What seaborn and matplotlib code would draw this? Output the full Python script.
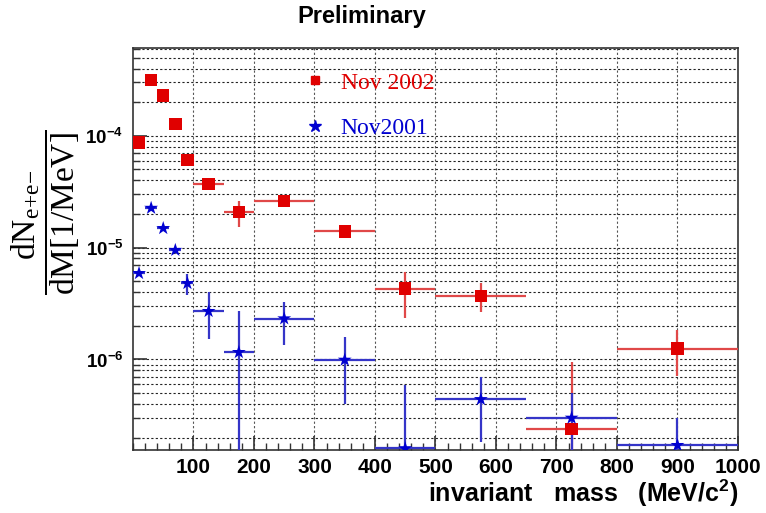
import numpy as np
import pandas as pd
import seaborn as sns
import matplotlib.pyplot as plt
from matplotlib.lines import Line2D
from matplotlib.ticker import FixedLocator, MultipleLocator, LogLocator, FuncFormatter, NullFormatter

# bin centres / half widths (MeV/c^2)
mass = [10, 30, 50, 70, 90, 125, 175, 250, 350, 450, 575, 725, 900]
half_width = [10, 10, 10, 10, 10, 25, 25, 50, 50, 50, 75, 75, 100]

# Nov 2002 (red squares)
rate_2002 = [8.7e-5, 3.15e-4, 2.3e-4, 1.28e-4, 6.1e-5, 3.7e-5, 2.08e-5,
             2.6e-5, 1.4e-5, 4.3e-6, 3.7e-6, 2.4e-7, 1.25e-6]
lo_2002 = [8.4e-5, 3.05e-4, 2.22e-4, 1.23e-4, 5.8e-5, 3.4e-5, 1.52e-5,
           2.3e-5, 1.22e-5, 2.36e-6, 2.64e-6, 1e-8, 7.1e-7]
hi_2002 = [9.0e-5, 3.25e-4, 2.38e-4, 1.33e-4, 6.4e-5, 4.0e-5, 2.6e-5,
           2.9e-5, 1.6e-5, 6.0e-6, 4.84e-6, 9.4e-7, 1.85e-6]

# Nov 2001 (blue stars)
rate_2001 = [5.9e-6, 2.26e-5, 1.49e-5, 9.5e-6, 4.8e-6, 2.7e-6, 1.16e-6,
             2.32e-6, 9.9e-7, 1.6e-7, 4.4e-7, 3.0e-7, 1.71e-7]
lo_2001 = [5.6e-6, 2.15e-5, 1.42e-5, 9.0e-6, 3.8e-6, 1.53e-6, 1e-8,
           1.36e-6, 3.97e-7, 1e-8, 1.83e-7, 1e-8, 1e-8]
hi_2001 = [6.2e-6, 2.37e-5, 1.56e-5, 1.0e-5, 5.86e-6, 4.0e-6, 2.7e-6,
           3.25e-6, 1.58e-6, 5.86e-7, 6.95e-7, 5.0e-7, 3.0e-7]

runs = ['Nov 2002', 'Nov2001']

sns.set_style('ticks')
plt.rcParams['font.family'] = ['Liberation Sans', 'DejaVu Sans']
plt.rcParams['mathtext.fontset'] = 'custom'
plt.rcParams['mathtext.rm'] = 'Liberation Serif'
plt.rcParams['mathtext.it'] = 'Liberation Serif:italic'
plt.rcParams['mathtext.bf'] = 'Liberation Sans:bold'
for key in ['text.color', 'axes.labelcolor', 'xtick.labelcolor', 'ytick.labelcolor']:
    plt.rcParams[key] = 'black'

fig = plt.figure(figsize=(7.66, 5.13), dpi=100)
ax = fig.add_axes([0.1736, 0.1228, 0.7898, 0.7836])

df = pd.DataFrame({
    'mass': mass + mass,
    'rate': rate_2002 + rate_2001,
    'run': [runs[0]] * len(mass) + [runs[1]] * len(mass),
})

ax.errorbar(mass, rate_2002, xerr=half_width,
            yerr=[np.array(rate_2002) - np.array(lo_2002), np.array(hi_2002) - np.array(rate_2002)],
            fmt='none', ecolor='#e04848', elinewidth=1.6, capsize=0, zorder=3)
ax.errorbar(mass, rate_2001, xerr=half_width,
            yerr=[np.array(rate_2001) - np.array(lo_2001), np.array(hi_2001) - np.array(rate_2001)],
            fmt='none', ecolor='#3535c8', elinewidth=1.6, capsize=0, zorder=3)

sns.scatterplot(data=df, x='mass', y='rate', hue='run', style='run',
                markers={'Nov 2002': 's', 'Nov2001': '*'},
                palette={'Nov 2002': '#e00000', 'Nov2001': '#0000d0'},
                size='run', sizes={'Nov 2002': 80, 'Nov2001': 110},
                linewidth=0, legend=False, zorder=4, ax=ax)

ax.set_yscale('log')
ax.set_xlim(0, 1000)
ax.set_ylim(1.55e-7, 6.1e-4)

ax.xaxis.set_major_locator(FixedLocator(list(range(100, 1001, 100))))
ax.xaxis.set_minor_locator(MultipleLocator(20))
ax.yaxis.set_major_locator(LogLocator(base=10))
ax.yaxis.set_minor_locator(LogLocator(base=10, subs=np.arange(2, 10)))
ax.yaxis.set_major_formatter(FuncFormatter(lambda v, p: r'$\mathbf{10^{%d}}$' % round(np.log10(v))))
ax.yaxis.set_minor_formatter(NullFormatter())

ax.tick_params(axis='both', which='both', direction='in', color='#333333', labelcolor='black')
ax.tick_params(axis='both', which='major', length=10, width=1.2, labelsize=15, pad=6)
ax.tick_params(axis='y', which='major', labelsize=13.5, pad=7)
ax.tick_params(axis='both', which='minor', length=5, width=1.0)
for lab in ax.get_xticklabels():
    lab.set_fontweight('bold')

ax.grid(True, axis='y', which='both', color='#222222', linestyle=(0, (2, 2)), linewidth=0.8)
ax.grid(True, axis='x', which='major', color='#555555', linestyle=(0, (2, 2)), linewidth=0.8)
ax.set_axisbelow(True)
for sp in ax.spines.values():
    sp.set_color('#333333')
    sp.set_linewidth(1.2)

ax.set_xlabel(r'invariant   mass   (MeV/$\mathbf{c^{2}}$)', fontsize=18, fontweight='bold',
              loc='right', labelpad=0, color='black')
ax.set_ylabel(r'$\dfrac{\mathrm{dN_{e\!+\!e\!-}}}{\mathrm{dM[1/MeV]}}$', fontsize=24, color='black')
ax.yaxis.set_label_coords(-0.084, 0.59)

fig.text(362 / 766, 1 - 17 / 513, 'Preliminary', fontsize=17, fontweight='bold',
         ha='center', va='center', color='black')

handles = [Line2D([], [], marker='s', color='#e00000', ls='', markersize=6),
           Line2D([], [], marker='*', color='#0000d0', ls='', markersize=9)]
ax.legend(handles, runs, loc='upper left', bbox_to_anchor=(0.285, 0.94), frameon=False,
          prop={'family': 'Liberation Serif', 'size': 17}, labelcolor=['#e00000', '#0000d0'],
          handlelength=0.8, handletextpad=0.7, labelspacing=1.0, borderpad=0, borderaxespad=0)

fig.savefig('out.png', dpi=100, facecolor='white')
